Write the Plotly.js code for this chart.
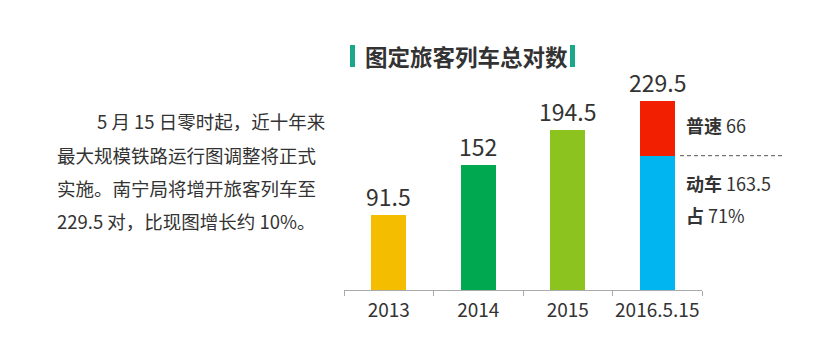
<!DOCTYPE html>
<html><head><meta charset="utf-8">
<script src="https://cdn.plot.ly/plotly-3.0.1.min.js"></script>
<style>body{margin:0;background:#fff}</style>
</head><body>
<div id="chart" style="width:826px;height:351px"></div>
<script>
var categories = ["2013", "2014", "2015", "2016.5.15"];
var totals = [91.5, 152, 194.5, 229.5];
var barColors = ["#F5BD00", "#00A850", "#8DC31F", "#00B5F0"];
var dongche = 163.5;
var pusu = 66;
var dongcheShare = "71%";
var titleText = "图定旅客列车总对数";
var paragraph = ["5 月 15 日零时起，近十年来", "最大规模铁路运行图调整将正式", "实施。南宁局将增开旅客列车至", "229.5 对，比现图增长约 10%。"];

var FONT = "Noto Sans CJK SC, Noto Sans, sans-serif";
var L = 344, R = 702, T = 60, B = 290;
function px(x){ return (x - L) / (R - L); }
function py(y){ return (B - y) / (B - T); }

var baseVals = totals.slice(0, 3).concat([dongche]);
var traces = [
  {type: "bar", x: categories, y: baseVals, marker: {color: barColors}, width: 0.39, hoverinfo: "none"},
  {type: "bar", x: [categories[3]], y: [pusu], marker: {color: "#F22000"}, width: 0.39, hoverinfo: "none"}
];

var ann = [];
for (var i = 0; i < categories.length; i++) {
  ann.push({x: i, y: totals[i], xref: "x", yref: "y", text: String(totals[i]), showarrow: false,
    xanchor: "center", yanchor: "bottom", yshift: 0, font: {family: FONT, size: 23, color: "#333"}});
}
ann.push({x: px(466), y: py(56), xref: "paper", yref: "paper", xanchor: "center", yanchor: "middle",
  text: "<b>" + titleText + "</b>", showarrow: false, font: {family: FONT, size: 22.5, color: "#333"}});
var lineY = [121, 155, 188, 221];
var lineX = [95, 55, 55, 55];
for (var j = 0; j < paragraph.length; j++) {
  ann.push({x: px(lineX[j]), y: py(lineY[j]), xref: "paper", yref: "paper", xanchor: "left", yanchor: "middle",
    text: paragraph[j], showarrow: false, font: {family: FONT, size: 18.5, color: "#333"}});
}
var rightTexts = ["<b>普速</b> " + pusu, "<b>动车</b> " + dongche, "<b>占</b> " + dongcheShare];
var rightY = [125, 183, 215];
for (var k = 0; k < rightTexts.length; k++) {
  ann.push({x: px(684), y: py(rightY[k]), xref: "paper", yref: "paper", xanchor: "left", yanchor: "middle",
    showarrow: false, text: rightTexts[k], font: {family: FONT, size: 18, color: "#333"}});
}

var shapes = [
  {type: "rect", xref: "paper", yref: "paper", x0: px(350), x1: px(355), y0: py(67), y1: py(45), fillcolor: "#1AA888", line: {width: 0}},
  {type: "rect", xref: "paper", yref: "paper", x0: px(570), x1: px(575), y0: py(67), y1: py(45), fillcolor: "#1AA888", line: {width: 0}},
  {type: "line", xref: "paper", yref: "y", x0: px(680), x1: px(782), y0: dongche, y1: dongche, line: {color: "#555", width: 1, dash: "4px,3px"}}
];

var layout = {
  width: 826, height: 351,
  margin: {l: L, r: 826 - R, t: T, b: 351 - B},
  barmode: "stack", showlegend: false,
  paper_bgcolor: "#fff", plot_bgcolor: "#fff",
  xaxis: {type: "category", range: [-0.5, 3.5], showline: true, linecolor: "#aaa", linewidth: 1,
    ticks: "outside", tickson: "boundaries", ticklen: 5, tickcolor: "#aaa", showgrid: false, tickangle: 0,
    ticklabelstandoff: 3, tickfont: {family: FONT, size: 19, color: "#333"}},
  yaxis: {range: [0, 280], visible: false, showgrid: false, zeroline: false},
  annotations: ann, shapes: shapes
};
Plotly.newPlot("chart", traces, layout, {displayModeBar: false, staticPlot: true});
</script>
</body></html>
